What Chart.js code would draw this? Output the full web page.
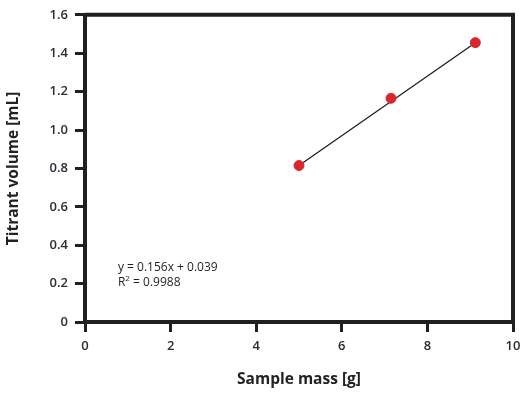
<!DOCTYPE html>
<html>
<head>
<meta charset="utf-8">
<script src="https://cdn.jsdelivr.net/npm/chart.js@4/dist/chart.umd.min.js"></script>
<style>
  html, body { margin: 0; padding: 0; background: #fff; }
  #wrap { width: 528px; height: 393px; }
</style>
</head>
<body>
<div id="wrap"><canvas id="titrationChart" width="528" height="393"></canvas></div>
<script>
// sample data
const sampleMass = [5.0, 7.15, 9.12];
const titrantVolume = [0.815, 1.165, 1.455];
// fitted line end points
const fitMass = [5.0, 9.12];
const fitVolume = [0.815, 1.455];
const fitText = "y = 0.156x + 0.039";
const r2Text = "0.9988";

const axisColor = "#231f20";
const tickFont = { family: "Open Sans", size: 13, weight: "600" };
const titleFont = { family: "Open Sans", size: 15.5, weight: "bold" };

// frame around the plot + equation text
const framePlugin = {
    id: "frame",
    afterDraw(chart) {
        const { ctx, chartArea, scales } = chart;
        ctx.save();
        ctx.strokeStyle = axisColor;
        ctx.lineWidth = 4;
        ctx.beginPath();
        ctx.moveTo(chartArea.left, chartArea.top);
        ctx.lineTo(chartArea.right, chartArea.top);
        ctx.lineTo(chartArea.right, chartArea.bottom);
        ctx.stroke();

        const tx = scales.x.getPixelForValue(0.77);
        const ty = scales.y.getPixelForValue(0.285);
        ctx.fillStyle = "#231f20";
        ctx.font = "12px 'Open Sans'";
        ctx.textBaseline = "middle";
        ctx.fillText(fitText, tx, ty);
        const ty2 = ty + 15;
        ctx.fillText("R", tx, ty2);
        let w = ctx.measureText("R").width;
        ctx.font = "8px 'Open Sans'";
        ctx.fillText("2", tx + w, ty2 - 4);
        w += ctx.measureText("2").width;
        ctx.font = "12px 'Open Sans'";
        ctx.fillText(" = " + r2Text, tx + w, ty2);
        ctx.restore();
    }
};

const ctx = document.getElementById("titrationChart").getContext("2d");
new Chart(ctx, {
    type: "scatter",
    data: {
        datasets: [
            {
                label: "Fit",
                data: fitMass.map((x, i) => ({ x, y: fitVolume[i] })),
                showLine: true,
                borderColor: "#1a1a1a",
                borderWidth: 1.2,
                pointRadius: 0,
                order: 2
            },
            {
                label: "Samples",
                data: sampleMass.map((x, i) => ({ x, y: titrantVolume[i] })),
                backgroundColor: "#d8282d",
                borderColor: "#d8282d",
                pointRadius: 5,
                order: 1
            }
        ]
    },
    options: {
        responsive: false,
        animation: false,
        layout: { padding: { top: 14, right: 15, left: 0, bottom: 0 } },
        plugins: {
            legend: { display: false },
            tooltip: { enabled: false }
        },
        scales: {
            x: {
                type: "linear",
                min: 0,
                max: 10,
                afterFit(scale) { scale.height = 71; },
                border: { color: axisColor, width: 4 },
                grid: {
                    drawOnChartArea: false,
                    drawTicks: true,
                    tickLength: 10,
                    lineWidth: 3,
                    color: axisColor
                },
                ticks: {
                    stepSize: 2,
                    color: "#2b2b35",
                    font: tickFont,
                    padding: 6
                },
                title: {
                    display: true,
                    text: "Sample mass [g]",
                    color: "#222",
                    font: titleFont,
                    padding: { top: 12 }
                }
            },
            y: {
                min: 0,
                max: 1.6,
                afterFit(scale) { scale.width = 85; },
                border: { color: axisColor, width: 4 },
                grid: {
                    drawOnChartArea: false,
                    drawTicks: true,
                    tickLength: 10,
                    lineWidth: 3,
                    color: axisColor
                },
                ticks: {
                    stepSize: 0.2,
                    color: "#2b2b35",
                    font: tickFont,
                    padding: 7,
                    callback: v => v === 0 ? "0" : v.toFixed(1)
                },
                title: {
                    display: true,
                    text: "Titrant volume [mL]",
                    color: "#222",
                    font: titleFont,
                    padding: { bottom: 5 }
                }
            }
        }
    },
    plugins: [framePlugin]
});
</script>
</body>
</html>
